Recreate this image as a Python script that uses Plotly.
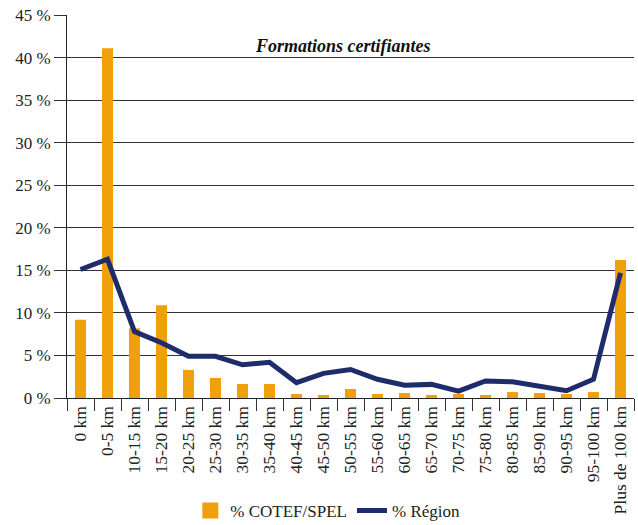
import plotly.graph_objects as go

categories = ["0 km", "0-5 km", "10-15 km", "15-20 km", "20-25 km", "25-30 km", "30-35 km",
              "35-40 km", "40-45 km", "45-50 km", "50-55 km", "55-60 km", "60-65 km", "65-70 km",
              "70-75 km", "75-80 km", "80-85 km", "85-90 km", "90-95 km", "95-100 km", "Plus de 100 km"]
cotef = [9.2, 41.1, 8.2, 10.9, 3.3, 2.35, 1.65, 1.65, 0.47, 0.35, 1.06, 0.47, 0.59, 0.35,
         0.47, 0.35, 0.7, 0.59, 0.47, 0.7, 16.2]
region = [15.1, 16.3, 7.8, 6.5, 4.9, 4.9, 3.9, 4.2, 1.8, 2.9, 3.35, 2.2, 1.5, 1.6,
          0.8, 2.0, 1.9, 1.37, 0.86, 2.2, 14.7]
yticks = [0, 5, 10, 15, 20, 25, 30, 35, 40, 45]

FONT = "Liberation Serif"
ORANGE = "#f0a00a"
NAVY = "#1f2c6b"

fig = go.Figure()
fig.add_trace(go.Bar(x=categories, y=cotef, name="% COTEF/SPEL", marker_color=ORANGE,
                     marker_line_width=0, width=0.41, showlegend=False))
# legend-only entry with a larger square swatch
fig.add_trace(go.Scatter(x=[None], y=[None], name="% COTEF/SPEL", mode="markers",
                         marker=dict(symbol="square", size=22, color=ORANGE, line_width=0)))
fig.add_trace(go.Scatter(x=categories, y=region, name="% Région", mode="lines",
                         line=dict(color=NAVY, width=5)))

fig.update_layout(
    width=638, height=525,
    margin=dict(l=67, r=4, t=15, b=127, autoexpand=False),
    paper_bgcolor="white", plot_bgcolor="white",
    font=dict(family=FONT, size=17, color="#222"),
    showlegend=True,
    legend=dict(orientation="h", x=0.46, xanchor="center", y=-0.295, yanchor="middle",
                font=dict(family=FONT, size=17, color="#222"), itemwidth=30,
                itemsizing="trace", tracegroupgap=0),
    annotations=[dict(text="<b><i>Formations certifiantes</i></b>", x=0.487, y=0.95,
                      xref="paper", yref="paper", showarrow=False,
                      font=dict(family=FONT, size=18, color="#111"))],
)
fig.update_xaxes(type="category", tickangle=-90, ticks="outside", tickson="boundaries",
                 ticklen=12, tickcolor="#333", showline=True, linecolor="#222", linewidth=1,
                 showgrid=False, automargin=False,
                 tickfont=dict(family=FONT, size=17.5, color="#222"))
fig.update_yaxes(range=[0, 45], tickvals=yticks, ticktext=[f"{v} %" for v in yticks],
                 ticks="outside", ticklen=12, tickcolor="#333", showline=True,
                 linecolor="#222", linewidth=1, showgrid=True, gridcolor="#333", gridwidth=1,
                 zeroline=False, automargin=False, ticklabeloverflow="allow",
                 tickfont=dict(family=FONT, size=17, color="#222"))

# remove the default 8px page margin so the figure fills the window exactly
fig.write_html("out.html", config={"displayModeBar": False},
               post_script="document.body.style.margin='0';")
